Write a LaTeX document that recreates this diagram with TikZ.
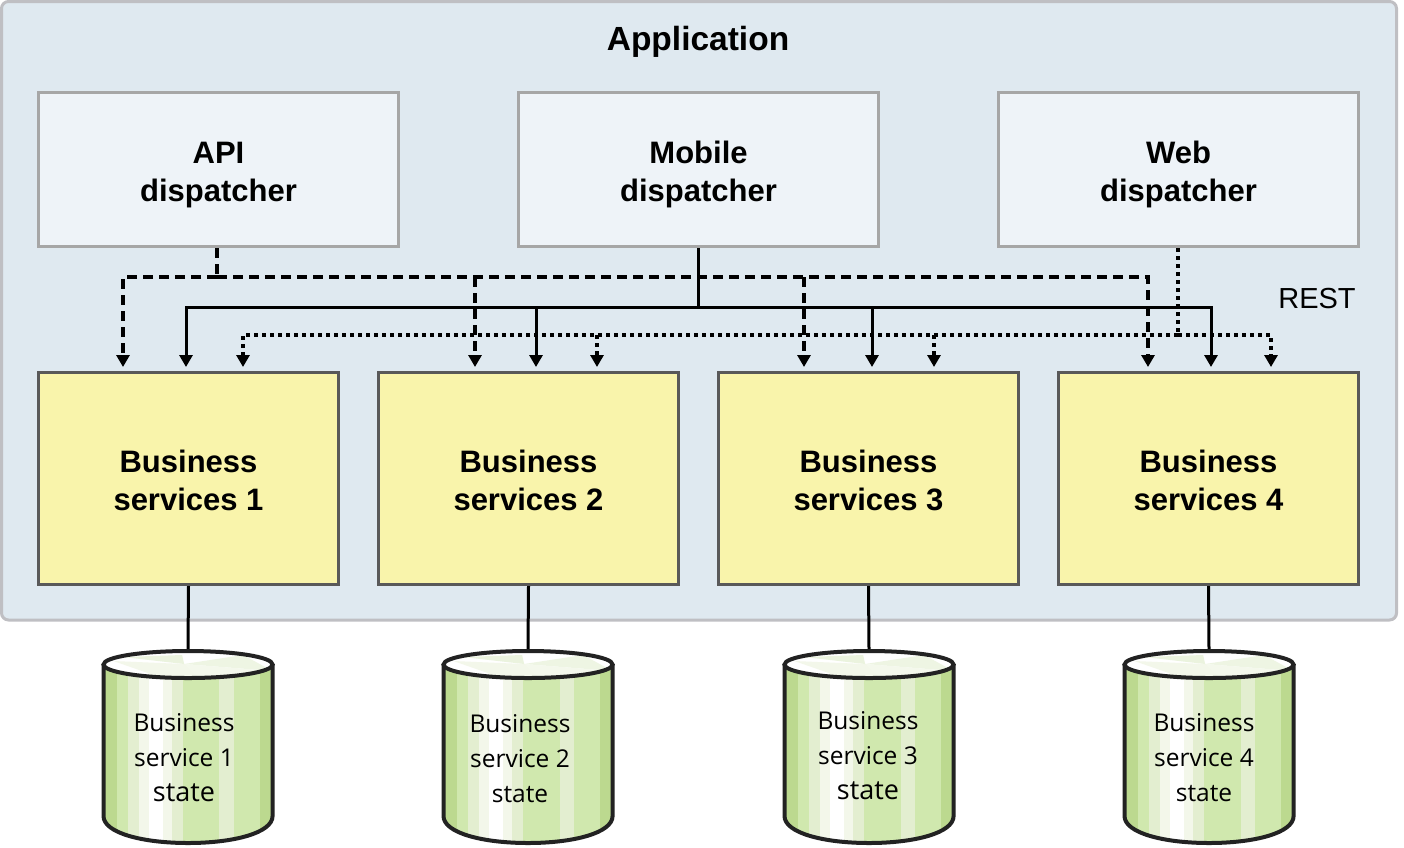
\documentclass[tikz,border=0pt]{standalone}
\usepackage{fontspec}
\setmainfont{Liberation Sans}
\newfontfamily\cylfont{Open Sans}
\usetikzlibrary{arrows.meta}
\definecolor{panelfill}{HTML}{DFE9F0}
\definecolor{panelline}{HTML}{BFBFC3}
\definecolor{dispfill}{HTML}{EEF3F8}
\definecolor{displine}{HTML}{A6A6A6}
\definecolor{svcfill}{HTML}{F9F4AB}
\definecolor{svcline}{HTML}{595959}
\definecolor{bandA}{HTML}{BCD98F}
\definecolor{bandB}{HTML}{D0E8AE}
\definecolor{bandC}{HTML}{E3EED0}
\definecolor{bandD}{HTML}{F3F7EA}
\definecolor{cylline}{HTML}{222222}
\newcommand{\twolines}[2]{\smash{\raisebox{-11.8pt}{\begin{tabular}{@{}c@{}}#1\\#2\end{tabular}}}}
\newcommand{\bigstate}{{\fontsize{27}{35}\selectfont state}}
\tikzset{
  dispbox/.style={draw=displine,fill=dispfill,line width=3pt,minimum width=360pt,minimum height=154pt,inner sep=0pt,outer sep=1.5pt,font=\fontsize{31}{38}\selectfont\bfseries},
  svcbox/.style={draw=svcline,fill=svcfill,line width=3pt,minimum width=300pt,minimum height=212pt,inner sep=0pt,outer sep=1.5pt,font=\fontsize{31}{38}\selectfont\bfseries},
  cylbox/.style={minimum width=172pt,minimum height=196pt,inner sep=0pt,outer sep=0pt},
  cyltext/.style={align=center,inner sep=0pt,font=\cylfont\fontsize{24.5}{35}\selectfont},
  wire/.style={black,line width=3pt},
  dashwire/.style={black,line width=4pt,dash pattern=on 10pt off 6pt},
  dotwire/.style={black,line width=3.5pt,dash pattern=on 4pt off 4pt},
  tip/.style={-{Triangle[width=13pt,length=12pt]}},
}
\newcommand{\dbcyl}[2]{%
  \begin{scope}[shift={(#2+1.5,651)},xscale=0.983]
    \begin{scope}
      \clip (0,13.5) -- (0,165) .. controls (0,182) and (40,192) .. (86,192) .. controls (132,192) and (172,182) .. (172,165) -- (172,13.5) -- cycle;
      \fill[bandB] (0,0) rectangle (172,200);
      \fill[bandA] (0,0) rectangle (14,200);
      \fill[bandC] (25,0) rectangle (36,200);
      \fill[bandD] (36,0) rectangle (46,200);
      \fill[white] (46,0) rectangle (61,200);
      \fill[bandD] (61,0) rectangle (70,200);
      \fill[bandC] (70,0) rectangle (81,200);
      \fill[bandC] (118,0) rectangle (133,200);
      \fill[bandA] (159,0) rectangle (172,200);
    \end{scope}
    \begin{scope}
      \clip (86,13.5) ellipse [x radius=86, y radius=13.5];
      \fill[white] (0,0) rectangle (172,30);
      \fill[bandD] (82,13) -- (10,10) -- (45,22) -- (55,30) -- (110,30) -- cycle;
      \fill[bandC!70!white] (82,13) -- (20,6) -- (80,4) -- cycle;
      \fill[bandC!60!white] (82,13) -- (142,4) -- (172,20) -- cycle;
      \fill[bandC!40!white] (82,13) -- (172,20) -- (100,30) -- cycle;
    \end{scope}
    \draw[cylline,line width=4pt] (0,13.5) -- (0,165) .. controls (0,182) and (40,192) .. (86,192) .. controls (132,192) and (172,182) .. (172,165) -- (172,13.5);
    \draw[cylline,line width=4pt] (86,13.5) ellipse [x radius=86, y radius=13.5];
  \end{scope}}
\begin{document}
\begin{tikzpicture}[x=1pt,y=-1pt]
\useasboundingbox (0,0) rectangle (1404,847);
\draw[panelline,fill=panelfill,line width=3pt,rounded corners=7pt] (1.5,1.5) rectangle (1396.5,620);
\node[font=\fontsize{33.5}{38}\selectfont\bfseries] (title) at (698,42) {Application};
\node[dispbox] (api) at (218.5,169.5) {\twolines{API}{dispatcher}};
\node[dispbox] (mob) at (698.5,169.5) {\twolines{Mobile}{dispatcher}};
\node[dispbox] (web) at (1178.5,169.5) {\twolines{Web}{dispatcher}};
\node[svcbox] (bs1) at (188.5,478.5) {\twolines{Business}{services 1}};
\node[svcbox] (bs2) at (528.5,478.5) {\twolines{Business}{services 2}};
\node[svcbox] (bs3) at (868.5,478.5) {\twolines{Business}{services 3}};
\node[svcbox] (bs4) at (1208.5,478.5) {\twolines{Business}{services 4}};
\node[font=\fontsize{29}{34}\selectfont] (rest) at (1317,299) {REST};
\coordinate (busA) at (217,277);
\coordinate (busM) at (698,307);
\coordinate (busW) at (1178,335);
% dispatcher trunks
\draw[dashwire] (api.south -| busA) -- (busA);
\draw[wire] (mob.south -| busM) -- (busM);
\draw[dotwire] (web.south -| busW) -- (busW);
% dashed bus
\draw[dashwire,tip] (busA) -| ([xshift=-65.5pt,yshift=4pt]bs1.north);
\draw[dashwire,tip] (busA) -| ([xshift=-60.5pt,yshift=4pt]bs4.north);
\draw[dashwire,tip] ([xshift=-53.5pt]bs2.north |- busA) -- ([xshift=-53.5pt,yshift=4pt]bs2.north);
\draw[dashwire,tip] ([xshift=-64.5pt]bs3.north |- busA) -- ([xshift=-64.5pt,yshift=4pt]bs3.north);
% solid bus
\draw[wire,tip] (busM) -| ([xshift=-2.5pt,yshift=4pt]bs1.north);
\draw[wire,tip] (busM) -| ([xshift=2.5pt,yshift=4pt]bs4.north);
\draw[wire,tip] ([xshift=7.5pt]bs2.north |- busM) -- ([xshift=7.5pt,yshift=4pt]bs2.north);
\draw[wire,tip] ([xshift=3.5pt]bs3.north |- busM) -- ([xshift=3.5pt,yshift=4pt]bs3.north);
% dotted bus
\draw[dotwire,tip] (busW) -| ([xshift=54.5pt,yshift=4pt]bs1.north);
\draw[dotwire,tip] (busW) -| ([xshift=62.5pt,yshift=4pt]bs4.north);
\draw[dotwire,tip] ([xshift=68.5pt]bs2.north |- busW) -- ([xshift=68.5pt,yshift=4pt]bs2.north);
\draw[dotwire,tip] ([xshift=65.5pt]bs3.north |- busW) -- ([xshift=65.5pt,yshift=4pt]bs3.north);
% data stores
\node[cylbox] (db1) at (188,747) {};
\node[cylbox] (db2) at (528,747) {};
\node[cylbox] (db3) at (869,747) {};
\node[cylbox] (db4) at (1209,747) {};
\draw[wire] (bs1.south) -- (db1.north);
\draw[wire] (bs2.south) -- (db2.north);
\draw[wire] (bs3.south) -- (db3.north);
\draw[wire] (bs4.south) -- (db4.north);
\dbcyl{db1}{102}
\dbcyl{db2}{442}
\dbcyl{db3}{783}
\dbcyl{db4}{1123}
\node[cyltext] (t1) at (184,758) {Business\\service 1\\\bigstate};
\node[cyltext] (t2) at (520,759) {Business\\service 2\\state};
\node[cyltext] (t3) at (868,756) {Business\\service 3\\\bigstate};
\node[cyltext] (t4) at (1204,758) {Business\\service 4\\state};
\end{tikzpicture}
\end{document}
